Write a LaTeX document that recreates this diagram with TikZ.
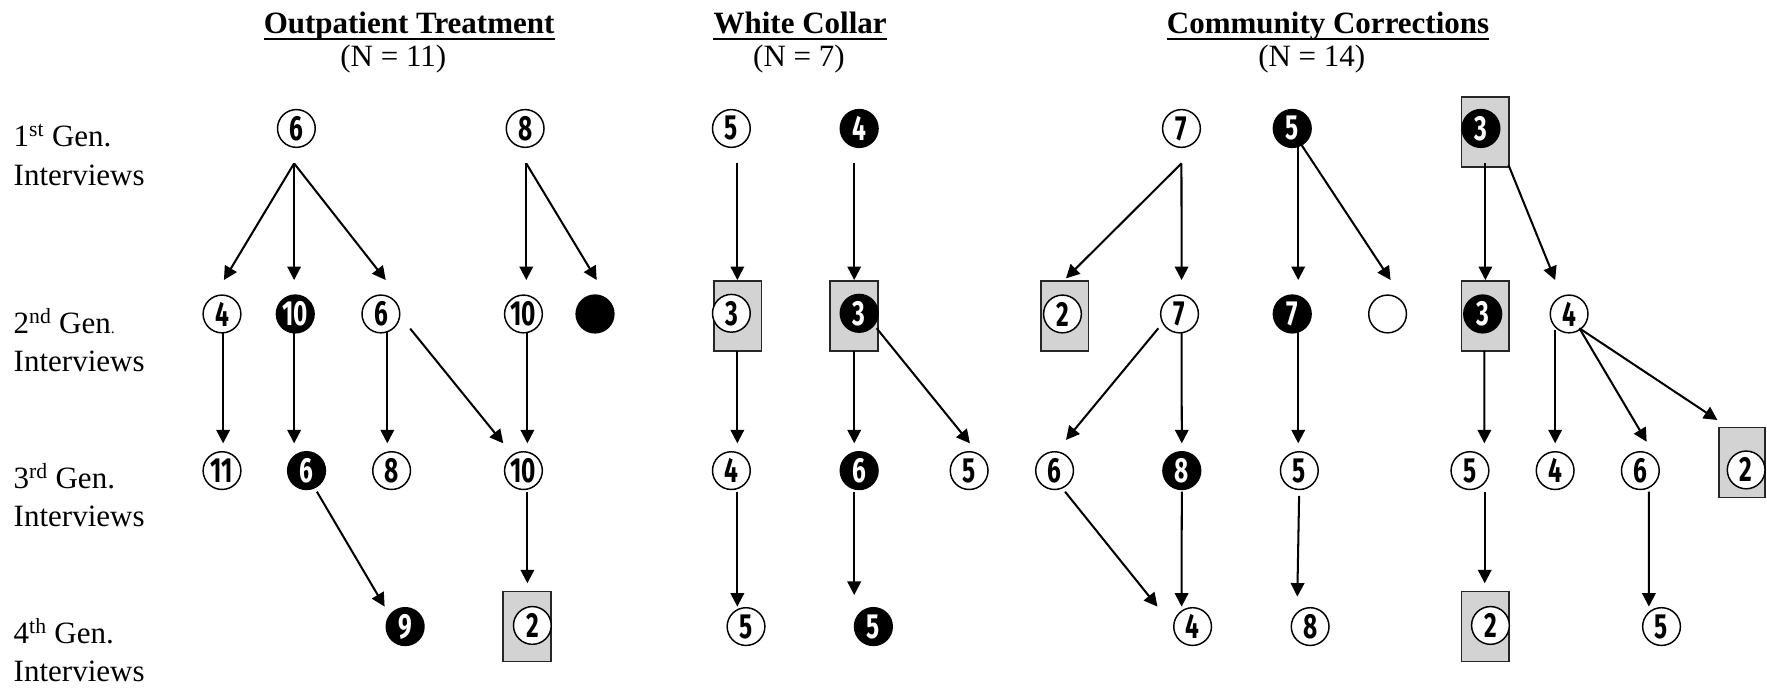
\documentclass[tikz,border=0pt]{standalone}
\usepackage{fontspec}
\setmainfont{Liberation Serif}
\newfontfamily\numfont[FakeStretch=0.7]{Fira Sans}
\usetikzlibrary{arrows.meta}
\definecolor{boxgray}{HTML}{D3D3D3}
\tikzset{
  num/.style={circle, inner sep=0pt, minimum size=33.5pt, line width=1.3pt,
    font=\numfont\bfseries\fontsize{31}{31}\selectfont},
  wc/.style={num, draw=black, fill=white},
  bc/.style={num, draw=black, fill=black, text=white},
  gbox/.style={rectangle, draw=black!85, line width=1.5pt, fill=boxgray,
    minimum width=42.4pt, minimum height=62.1pt, inner sep=0pt},
  arr/.style={line width=1.8pt, -{Triangle[width=12pt,length=12pt]}},
  lab/.style={anchor=base west, inner sep=0pt, font=\fontsize{27.5}{33}\selectfont},
  ttl/.style={anchor=base, inner sep=0pt, font=\bfseries\fontsize{27.5}{33}\selectfont},
  sub/.style={anchor=base, inner sep=0pt, font=\fontsize{27.5}{33}\selectfont},
  uline/.style={line width=2pt},
}
\begin{document}
\begin{tikzpicture}[x=1pt, y=-1pt]
\useasboundingbox (0,0) rectangle (1568,611);

% ---------- headings ----------
\node[ttl] (t1) at (363,29.6) {Outpatient Treatment};
\node[ttl] (t2) at (710,29.6) {White Collar};
\node[ttl] (t3) at (1178.5,29.6) {Community Corrections};
\foreach \t in {t1,t2,t3}
  \draw[uline] ([yshift=-5pt]\t.base west) -- ([yshift=-5pt]\t.base east);
\node[sub] (n1) at (349,59) {(N = 11)};
\node[sub] (n2) at (709,59) {(N = 7)};
\node[sub] (n3) at (1164,59) {(N = 14)};

% ---------- row labels ----------
\node[lab] (r1a) at (12,130.1) {1\textsuperscript{st} Gen.};
\node[lab] (r1b) at (12,164.2) {Interviews};
\node[lab] (r2a) at (12,295.8) {2\textsuperscript{nd} Gen{\fontsize{14}{14}\selectfont.}};
\node[lab] (r2b) at (12,329.8) {Interviews};
\node[lab] (r3a) at (12,433.3) {3\textsuperscript{rd} Gen.};
\node[lab] (r3b) at (12,467.3) {Interviews};
\node[lab] (r4a) at (12,571.4) {4\textsuperscript{th} Gen.};
\node[lab] (r4b) at (12,604.9) {Interviews};

% ---------- grey boxes ----------
\node[gbox] (d2box) at (467.8,556) {};
\node[gbox] (f1box) at (654.5,280.4) {};
\node[gbox] (f2box) at (758,280.4) {};
\node[gbox] (i3box) at (1318.1,116.9) {};
\node[gbox] (j1box) at (944.7,280.4) {};
\node[gbox] (j5box) at (1318.1,280.4) {};
\node[gbox, minimum width=40.7pt] (k7box) at (1545.7,410.3) {};
\node[gbox] (l3box) at (1318.1,556) {};

% ---------- Outpatient Treatment ----------
\node[wc] (a1) at (263,114) {6};
\node[wc] (a2) at (466,114) {8};
\node[wc] (b1) at (197,278.6) {4};
\node[bc] (b2) at (262,278.6) {10};
\node[wc] (b3) at (338,278.6) {6};
\node[wc] (b4) at (464.5,278.6) {10};
\node[bc] (b5) at (528,278.6) {};
\node[wc] (c1) at (197,417.6) {11};
\node[bc] (c2) at (272,417.6) {6};
\node[wc] (c3) at (347.5,417.6) {8};
\node[wc] (c4) at (464.5,417.6) {10};
\node[bc] (d1) at (359.5,556) {9};
\node[wc] (d2) at (472.4,555) {2};

% ---------- White Collar ----------
\node[wc] (e1) at (649,114) {5};
\node[bc] (e2) at (762.4,114) {4};
\node[wc] (f1) at (649,278) {3};
\node[bc] (f2) at (762.4,278) {3};
\node[wc] (g1) at (649,417.6) {4};
\node[bc] (g2) at (762.4,417.6) {6};
\node[wc] (g3) at (860,417.6) {5};
\node[wc] (h1) at (662,556) {5};
\node[bc] (h2) at (775,556) {5};

% ---------- Community Corrections ----------
\node[wc] (i1) at (1048.4,114) {7};
\node[bc] (i2) at (1146.7,114) {5};
\node[bc] (i3) at (1314.1,114) {3};
\node[wc] (j1) at (942.8,278.6) {2};
\node[wc] (j2) at (1046.7,278.6) {7};
\node[bc] (j3) at (1146.7,278.6) {7};
\node[wc] (j4) at (1231.3,278.6) {};
\node[bc] (j5) at (1315.7,278.6) {3};
\node[wc] (j6) at (1392.4,278.6) {4};
\node[wc] (k1) at (935.8,417.6) {6};
\node[bc] (k2) at (1048.7,417.6) {8};
\node[wc] (k3) at (1153,417.6) {5};
\node[wc] (k4) at (1304.4,417.6) {5};
\node[wc] (k5) at (1380,417.6) {4};
\node[wc] (k6) at (1455.6,417.6) {6};
\node[wc] (k7) at (1549.5,417) {2};
\node[wc] (l1) at (1058.3,556) {4};
\node[wc] (l2) at (1162.6,556) {8};
\node[wc] (l3) at (1322.6,555) {2};
\node[wc] (l4) at (1474.4,556) {5};

% ---------- connectors: Outpatient Treatment ----------
\draw[arr] ([shift={(-2,31)}]a1.center) -- ([shift={(1.7,-30.1)}]b1.center);
\draw[arr] ([shift={(-2,31)}]a1.center) -- ([shift={(-1,-30.1)}]b2.center);
\draw[arr] ([shift={(-2,31)}]a1.center) -- ([shift={(4.3,-30.1)}]b3.center);
\draw[arr] ([shift={(1,31)}]a2.center) -- ([shift={(2.5,-30.1)}]b4.center);
\draw[arr] ([shift={(1,31)}]a2.center) -- ([shift={(1.5,-30.1)}]b5.center);
\draw[arr] ([shift={(1,16.4)}]b1.center) -- ([shift={(1,-24.2)}]c1.center);
\draw[arr] ([shift={(-1,16.4)}]b2.center) -- ([shift={(-11,-24.2)}]c2.center);
\draw[arr] ([shift={(5.7,16.4)}]b3.center) -- ([shift={(-3.8,-24.2)}]c3.center);
\draw[arr] ([shift={(26,13)}]b3.center) -- ([shift={(-17.9,-24.2)}]c4.center);
\draw[arr] ([shift={(3.5,16.4)}]b4.center) -- ([shift={(3.5,-24.2)}]c4.center);
\draw[arr] ([shift={(9.2,18.7)}]c2.center) -- ([shift={(-18.2,-17.7)}]d1.center);
\draw[arr] ([shift={(3.5,18.7)}]c4.center) -- ([shift={(0.2,-38.4)}]d2box.center);

% ---------- connectors: White Collar ----------
\draw[arr] ([shift={(5.3,31)}]e1.center) -- ([shift={(-0.2,-31.9)}]f1box.center);
\draw[arr] ([shift={(-4.4,31)}]e2.center) -- ([shift={(0,-31.9)}]f2box.center);
\draw[arr] ([shift={(-0.2,31)}]f1box.center) -- ([shift={(5.3,-24.2)}]g1.center);
\draw[arr] ([shift={(0,31)}]f2box.center) -- ([shift={(-4.4,-24.2)}]g2.center);
\draw[arr] ([shift={(15.5,13.3)}]f2.center) -- ([shift={(0.7,-24.2)}]g3.center);
\draw[arr] ([shift={(5.3,18.7)}]g1.center) -- ([shift={(-7.7,-17.7)}]h1.center);
\draw[arr] ([shift={(-4.4,18.7)}]g2.center) -- ([shift={(-17,-28)}]h2.center);

% ---------- connectors: Community Corrections ----------
\draw[arr] ([shift={(0,31)}]i1.center) -- ([shift={(1.2,-33.4)}]j1box.center);
\draw[arr] ([shift={(0,31)}]i1.center) -- ([shift={(1.8,-30.1)}]j2.center);
\draw[arr] ([shift={(5.3,16)}]i2.center) -- ([shift={(5.3,-30.1)}]j3.center);
\draw[arr] ([shift={(7.3,13.2)}]i2.center) -- ([shift={(2.7,-30.1)}]j4.center);
\draw[arr] ([shift={(0,28.1)}]i3box.center) -- ([shift={(0,-31.9)}]j5box.center);
\draw[arr] ([shift={(20.5,29.5)}]i3box.center) -- ([shift={(-12.4,-30.1)}]j6.center);
\draw[arr] ([shift={(-18.8,12.7)}]j2.center) -- ([shift={(10.1,-27.2)}]k1.center);
\draw[arr] ([shift={(1.8,16.4)}]j2.center) -- ([shift={(0,-24.2)}]k2.center);
\draw[arr] ([shift={(5.3,16.4)}]j3.center) -- ([shift={(-1,-24.2)}]k3.center);
\draw[arr] ([shift={(-0.9,31)}]j5box.center) -- ([shift={(12.8,-24.2)}]k4.center);
\draw[arr] ([shift={(-12.4,14.4)}]j6.center) -- ([shift={(0,-24.2)}]k5.center);
\draw[arr] ([shift={(9.1,12.7)}]j6.center) -- ([shift={(5.6,-25.6)}]k6.center);
\draw[arr] ([shift={(9.1,12.7)}]j6.center) -- ([shift={(-21.7,-37.6)}]k7box.center);
\draw[arr] ([shift={(9.3,18.7)}]k1.center) -- ([shift={(-31.2,-17.7)}]l1.center);
\draw[arr] ([shift={(0,18.7)}]k2.center) -- ([shift={(-9.8,-17.7)}]l1.center);
\draw[arr] ([shift={(-0.2,22.5)}]k3.center) -- ([shift={(-11.4,-26.6)}]l2.center);
\draw[arr] ([shift={(13.1,18.7)}]k4.center) -- ([shift={(-0.6,-38.4)}]l3box.center);
\draw[arr] ([shift={(7.6,18.7)}]k6.center) -- ([shift={(-11.2,-17.7)}]l4.center);
\end{tikzpicture}
\end{document}
